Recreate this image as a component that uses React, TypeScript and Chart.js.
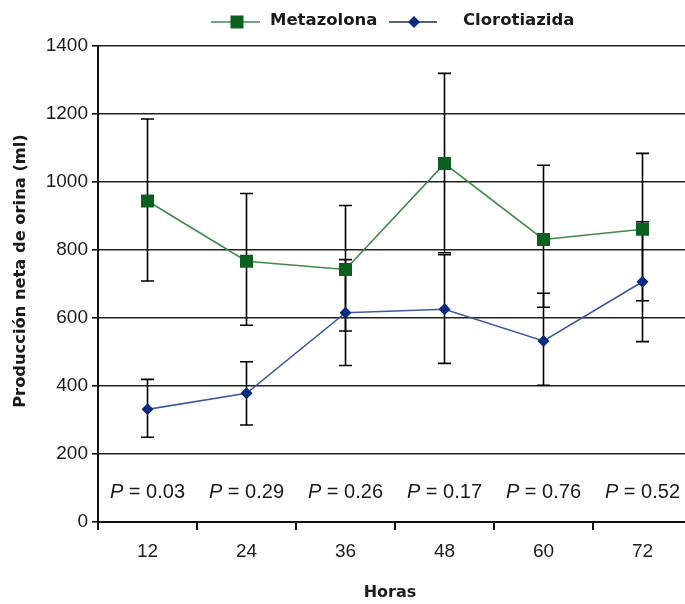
import React, { useEffect, useRef } from 'react';
import { Chart, registerables } from 'chart.js';

Chart.register(...registerables);

const hours = ['12', '24', '36', '48', '60', '72'];
const metazolona = [943, 766, 742, 1053, 830, 860];
const metazolonaHigh = [1184, 965, 930, 1318, 1048, 1083];
const metazolonaLow = [708, 578, 561, 791, 631, 650];
const clorotiazida = [331, 378, 615, 625, 532, 706];
const clorotiazidaHigh = [419, 471, 771, 785, 672, 882];
const clorotiazidaLow = [249, 285, 460, 466, 402, 530];
const pValues = ['0.03', '0.29', '0.26', '0.17', '0.76', '0.52'];
const yMin = 0;
const yMax = 1400;
const yStep = 200;

const seriesNames = ['Metazolona', 'Clorotiazida'];
const yTitle = 'Producción neta de orina (ml)';
const xTitle = 'Horas';

const GREEN_LINE = '#3f8a45';
const GREEN_MARK = '#0b6020';
const BLUE_LINE = '#3c5aa0';
const BLUE_MARK = '#0c2a7e';
const INK = '#1a1a1a';

const errorBarPlugin = {
  id: 'errorBars',
  beforeDatasetsDraw(chart: any) {
    const { ctx, scales } = chart;
    const x = scales.x;
    const y = scales.y;
    const sets = [
      [metazolonaLow, metazolonaHigh],
      [clorotiazidaLow, clorotiazidaHigh],
    ];
    ctx.save();
    ctx.strokeStyle = '#000';
    ctx.lineWidth = 1.6;
    sets.forEach(([lo, hi]) => {
      for (let i = 0; i < hours.length; i++) {
        const px = x.getPixelForValue(i);
        const yl = y.getPixelForValue(lo[i]);
        const yh = y.getPixelForValue(hi[i]);
        ctx.beginPath();
        ctx.moveTo(px, yl);
        ctx.lineTo(px, yh);
        ctx.moveTo(px - 6.5, yl);
        ctx.lineTo(px + 6.5, yl);
        ctx.moveTo(px - 6.5, yh);
        ctx.lineTo(px + 6.5, yh);
        ctx.stroke();
      }
    });
    ctx.restore();
  },
};

const annotationPlugin = {
  id: 'annotations',
  afterDraw(chart: any) {
    const { ctx, scales } = chart;
    const x = scales.x;
    ctx.save();
    // P values
    ctx.fillStyle = INK;
    ctx.textBaseline = 'middle';
    for (let i = 0; i < hours.length; i++) {
      const cx = x.getPixelForValue(i);
      ctx.font = 'italic 20px "Liberation Sans", Arial, sans-serif';
      const wP = ctx.measureText('P').width;
      ctx.font = '20px "Liberation Sans", Arial, sans-serif';
      const rest = ' = ' + pValues[i];
      const wR = ctx.measureText(rest).width;
      const start = cx - (wP + wR) / 2;
      ctx.textAlign = 'left';
      ctx.font = 'italic 20px "Liberation Sans", Arial, sans-serif';
      ctx.fillText('P', start, 492);
      ctx.font = '20px "Liberation Sans", Arial, sans-serif';
      ctx.fillText(rest, start + wP, 492);
    }

    // Legend
    const ly = 22;
    ctx.lineWidth = 1.6;
    ctx.strokeStyle = GREEN_LINE;
    ctx.beginPath();
    ctx.moveTo(211, ly);
    ctx.lineTo(260, ly);
    ctx.stroke();
    ctx.fillStyle = GREEN_MARK;
    ctx.fillRect(237 - 6.5, ly - 6.5, 13, 13);
    ctx.strokeStyle = '#1f2f5a';
    ctx.beginPath();
    ctx.moveTo(389, ly);
    ctx.lineTo(437, ly);
    ctx.stroke();
    ctx.fillStyle = BLUE_MARK;
    ctx.beginPath();
    ctx.moveTo(414 - 6, ly);
    ctx.lineTo(414, ly - 6);
    ctx.lineTo(414 + 6, ly);
    ctx.lineTo(414, ly + 6);
    ctx.closePath();
    ctx.fill();
    ctx.fillStyle = INK;
    ctx.font = 'bold 16.5px "DejaVu Sans", sans-serif';
    ctx.textAlign = 'left';
    ctx.textBaseline = 'middle';
    ctx.fillText(seriesNames[0], 270, ly - 1);
    ctx.fillText(seriesNames[1], 463, ly - 1);

    // Axis titles
    ctx.font = 'bold 16px "DejaVu Sans", sans-serif';
    ctx.textAlign = 'center';
    ctx.fillText(xTitle, 390, 593);
    ctx.translate(21, 271);
    ctx.rotate(-Math.PI / 2);
    ctx.font = 'bold 16.3px "DejaVu Sans", sans-serif';
    ctx.fillText(yTitle, 0, 0);
    ctx.restore();
  },
};

export default function App() {
  const ref = useRef<HTMLCanvasElement | null>(null);

  useEffect(() => {
    if (!ref.current) return;
    const chart = new Chart(ref.current, {
      type: 'line',
      data: {
        labels: hours,
        datasets: [
          {
            label: seriesNames[0],
            data: metazolona,
            borderColor: GREEN_LINE,
            borderWidth: 1.6,
            pointStyle: 'rect',
            pointRadius: 9.2,
            pointBackgroundColor: GREEN_MARK,
            pointBorderColor: GREEN_MARK,
            pointBorderWidth: 0,
            tension: 0,
          },
          {
            label: seriesNames[1],
            data: clorotiazida,
            borderColor: BLUE_LINE,
            borderWidth: 1.6,
            pointStyle: 'rectRot',
            pointRadius: 6,
            pointBackgroundColor: BLUE_MARK,
            pointBorderColor: BLUE_MARK,
            pointBorderWidth: 0,
            tension: 0,
          },
        ],
      },
      options: {
        animation: false,
        responsive: false,
        devicePixelRatio: 1,
        layout: { autoPadding: false, padding: { top: 45.5, left: 0, right: 0, bottom: 0 } },
        plugins: {
          legend: { display: false },
          tooltip: { enabled: false },
          title: { display: false },
        },
        scales: {
          x: {
            type: 'category',
            offset: true,
            grid: {
              offset: true,
              drawOnChartArea: false,
              drawTicks: true,
              tickLength: 8,
              color: '#111',
              lineWidth: 2,
            },
            border: { display: true, color: '#111', width: 2 },
            ticks: {
              color: INK,
              font: { family: '"Liberation Sans", Arial, sans-serif', size: 19 },
              padding: 10,
              maxRotation: 0,
            },
            afterFit(scale: any) {
              scale.height = 82;
              scale.paddingLeft = 0;
              scale.paddingRight = 0;
            },
          },
          y: {
            min: yMin,
            max: yMax,
            ticks: {
              stepSize: yStep,
              color: INK,
              font: { family: '"Liberation Sans", Arial, sans-serif', size: 19 },
              padding: 4,
              callback: (v: any) => String(v),
            },
            grid: {
              color: '#222',
              lineWidth: 1.6,
              drawTicks: true,
              tickLength: 6,
              tickColor: '#111',
            },
            border: { display: true, color: '#111', width: 2 },
            afterFit(scale: any) {
              scale.width = 98;
            },
          },
        },
      },
      plugins: [errorBarPlugin, annotationPlugin],
    });
    return () => chart.destroy();
  }, []);

  return (
    <div
      style={{
        position: 'fixed',
        left: 0,
        top: 0,
        width: 685,
        height: 604,
        overflow: 'hidden',
        background: '#fff',
      }}
    >
      <canvas ref={ref} width={692} height={604} style={{ display: 'block', width: 692, height: 604 }} />
    </div>
  );
}
